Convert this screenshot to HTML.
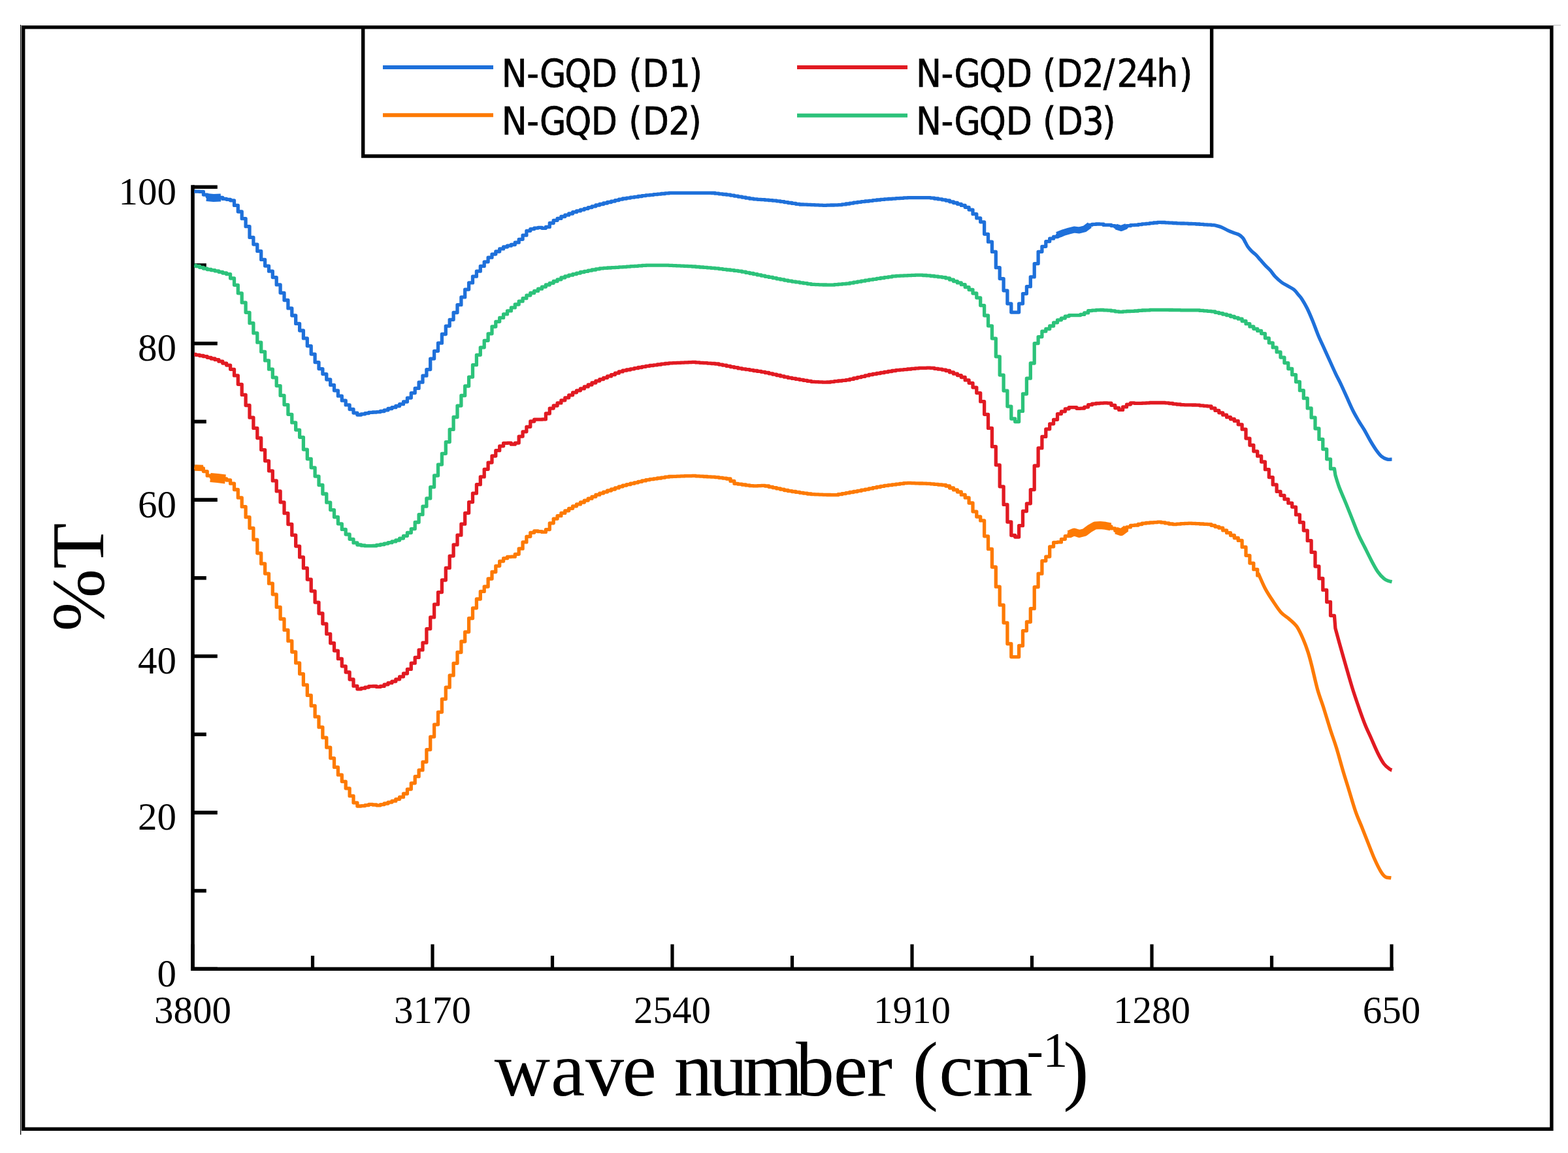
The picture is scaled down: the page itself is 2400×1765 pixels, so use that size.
<!DOCTYPE html><html><head><meta charset="utf-8"><title>FTIR spectra of N-GQD samples</title><style>html,body{margin:0;padding:0;background:#fff;overflow:hidden;}svg{display:block;}.tl{font-family:"Liberation Serif","Times New Roman",serif;fill:#000;}.lg{font-family:"DejaVu Sans Condensed","DejaVu Sans","Liberation Sans",sans-serif;font-stretch:condensed;fill:#000;stroke:#000;stroke-width:0.7px;}</style></head><body>
<svg xmlns="http://www.w3.org/2000/svg" width="2400" height="1765" viewBox="0 0 2400 1765">
<rect x="0" y="0" width="2400" height="1765" fill="#fff"/>
<line x1="31.6" y1="38" x2="31.6" y2="1737" stroke="#000" stroke-width="1.3"/>
<line x1="2377" y1="38.6" x2="2389" y2="38.6" stroke="#bbb" stroke-width="1"/>
<rect x="35.7" y="41.7" width="2339.2" height="1686.6" fill="none" stroke="#000" stroke-width="5.4"/>
<path d="M555.7 41.7 V239 H1854.6 V41.7" fill="none" stroke="#000" stroke-width="5.4"/>
<line x1="586" y1="103" x2="755" y2="103" stroke="#1E70DA" stroke-width="6"/>
<line x1="586" y1="176.3" x2="755" y2="176.3" stroke="#FD7A04" stroke-width="6"/>
<line x1="1220" y1="103" x2="1389" y2="103" stroke="#E11A22" stroke-width="6"/>
<line x1="1220" y1="176.8" x2="1389" y2="176.8" stroke="#2CC27A" stroke-width="6"/>
<text class="lg" x="767.8 806.3 826.1 864.3 904.7 944.9 962.6 983.3 1023.8 1054.7" y="132.9" font-size="58">N-GQD (D1)</text>
<text class="lg" x="767.8 806.3 826.1 864.3 904.7 944.9 962.2 983.8 1023.3 1053.6" y="206.4" font-size="58">N-GQD (D2)</text>
<text class="lg" x="1402.0 1440.5 1460.6 1498.8 1539.7 1579.9 1596.1 1617.0 1656.5 1688.7 1709.4 1739.1 1770.2 1804.9" y="132.9" font-size="58">N-GQD (D2/24h)</text>
<text class="lg" x="1402.0 1440.5 1460.6 1498.8 1539.7 1579.9 1595.9 1617.6 1656.6 1687.3" y="206.4" font-size="58">N-GQD (D3)</text>
<line x1="295.0" y1="283.3" x2="295.0" y2="1486.1" stroke="#000" stroke-width="5.6"/>
<line x1="292.2" y1="1483.3" x2="2133.0" y2="1483.3" stroke="#000" stroke-width="5.6"/>
<line x1="295.0" y1="1483.3" x2="295.0" y2="1445.5" stroke="#000" stroke-width="5.2"/>
<line x1="478.5" y1="1483.3" x2="478.5" y2="1463.0" stroke="#000" stroke-width="5.2"/>
<line x1="662.0" y1="1483.3" x2="662.0" y2="1445.5" stroke="#000" stroke-width="5.2"/>
<line x1="845.5" y1="1483.3" x2="845.5" y2="1463.0" stroke="#000" stroke-width="5.2"/>
<line x1="1029.0" y1="1483.3" x2="1029.0" y2="1445.5" stroke="#000" stroke-width="5.2"/>
<line x1="1212.5" y1="1483.3" x2="1212.5" y2="1463.0" stroke="#000" stroke-width="5.2"/>
<line x1="1396.0" y1="1483.3" x2="1396.0" y2="1445.5" stroke="#000" stroke-width="5.2"/>
<line x1="1579.5" y1="1483.3" x2="1579.5" y2="1463.0" stroke="#000" stroke-width="5.2"/>
<line x1="1763.0" y1="1483.3" x2="1763.0" y2="1445.5" stroke="#000" stroke-width="5.2"/>
<line x1="1946.5" y1="1483.3" x2="1946.5" y2="1463.0" stroke="#000" stroke-width="5.2"/>
<line x1="2130.0" y1="1483.3" x2="2130.0" y2="1445.5" stroke="#000" stroke-width="5.2"/>
<line x1="295.0" y1="1483.3" x2="332.8" y2="1483.3" stroke="#000" stroke-width="5.6"/>
<line x1="295.0" y1="1363.6" x2="315.8" y2="1363.6" stroke="#000" stroke-width="5.6"/>
<line x1="295.0" y1="1243.9" x2="332.8" y2="1243.9" stroke="#000" stroke-width="5.6"/>
<line x1="295.0" y1="1124.2" x2="315.8" y2="1124.2" stroke="#000" stroke-width="5.6"/>
<line x1="295.0" y1="1004.5" x2="332.8" y2="1004.5" stroke="#000" stroke-width="5.6"/>
<line x1="295.0" y1="884.8" x2="315.8" y2="884.8" stroke="#000" stroke-width="5.6"/>
<line x1="295.0" y1="765.1" x2="332.8" y2="765.1" stroke="#000" stroke-width="5.6"/>
<line x1="295.0" y1="645.4" x2="315.8" y2="645.4" stroke="#000" stroke-width="5.6"/>
<line x1="295.0" y1="525.7" x2="332.8" y2="525.7" stroke="#000" stroke-width="5.6"/>
<line x1="295.0" y1="406.0" x2="315.8" y2="406.0" stroke="#000" stroke-width="5.6"/>
<line x1="295.0" y1="286.3" x2="332.8" y2="286.3" stroke="#000" stroke-width="5.6"/>
<text class="tl" x="295.0" y="1566" font-size="59" text-anchor="middle">3800</text>
<text class="tl" x="662.0" y="1566" font-size="59" text-anchor="middle">3170</text>
<text class="tl" x="1029.0" y="1566" font-size="59" text-anchor="middle">2540</text>
<text class="tl" x="1396.0" y="1566" font-size="59" text-anchor="middle">1910</text>
<text class="tl" x="1763.0" y="1566" font-size="59" text-anchor="middle">1280</text>
<text class="tl" x="2130.0" y="1566" font-size="59" text-anchor="middle">650</text>
<text class="tl" x="270" y="1509.8" font-size="59" text-anchor="end">0</text>
<text class="tl" x="270" y="1270.4" font-size="59" text-anchor="end">20</text>
<text class="tl" x="270" y="1031.0" font-size="59" text-anchor="end">40</text>
<text class="tl" x="270" y="791.6" font-size="59" text-anchor="end">60</text>
<text class="tl" x="270" y="552.2" font-size="59" text-anchor="end">80</text>
<text class="tl" x="270" y="312.8" font-size="59" text-anchor="end">100</text>
<text class="tl" y="1676.5" font-size="118"><tspan x="756.7 842.9 896.0 952.4 1004.8 1031.7 1085.3 1136.9 1217.9 1275.7 1326.8 1366.1 1396.8 1437.2 1489.0">wave number (cm</tspan><tspan x="1571.5 1596.3" y="1632.6" font-size="76">-1</tspan><tspan x="1627.2" y="1676.5">)</tspan></text>
<text class="tl" font-size="115" text-anchor="middle" transform="translate(158,883.5) rotate(-90)">%T</text>
<path d="M297.5 293.0H299.6V293.2H305.5V293.4H311.4V298.1H317.2V300.9H323.1V301.4H329.0V302.0H334.9V302.5H340.8V304.4H346.7V305.3H352.6V306.8H358.5V314.4H364.3V324.0H370.2V334.7H376.1V346.7H382.0V363.4H387.9V374.1H393.8V384.4H399.7V397.4H405.6V407.1H411.5V415.2H417.3V424.6H423.2V435.9H429.1V448.3H435.0V459.5H440.9V471.9H446.8V483.0H452.7V495.4H458.6V506.0H464.4V517.9H470.3V529.6H476.2V542.1H482.1V554.6H488.0V564.6H493.9V572.6H499.8V581.0H505.7V589.4H511.5V597.8H517.4V606.2H523.3V613.2H529.2V619.9H535.1V626.5H541.0V632.1H546.9V635.0H552.8V633.8H558.7V632.6H564.5V631.4H570.4V631.0H576.3V630.6H582.2V629.5H588.1V627.8H594.0V625.5H599.9V623.7H605.8V621.5H611.6V618.7H617.5V615.0H623.4V609.1H629.3V601.6H635.2V594.4H641.1V585.2H647.0V575.2H652.9V565.6H658.7V549.1H664.6V537.3H670.5V525.2H676.4V511.5H682.3V499.1H688.2V489.3H694.1V478.5H700.0V466.7H705.9V454.9H711.7V443.1H717.6V432.9H723.5V423.2H729.4V415.2H735.3V407.4H741.2V400.8H747.1V394.2H753.0V389.1H758.8V385.0H764.7V380.9H770.6V378.0H776.5V376.2H782.4V374.5H788.3V371.2H794.2V366.3H800.1V360.2H805.9V353.3H811.8V350.6H817.7V349.1H823.6V348.4H829.5V349.3H835.4V347.4H841.3V341.5H847.2V337.3H853.1V334.4H858.9V331.5H864.8V329.2H870.7V327.0H876.6V324.7H882.5V322.9H888.4V321.1H894.3V319.3H900.2V317.6H906.0V315.8H911.9V314.0H917.8V312.5H923.7V311.0H929.6V309.5H935.5V308.1H941.4V306.6H947.3V305.1H953.1V304.0H959.0V303.1H964.9V302.2H970.8V301.4H976.7V300.5H982.6V299.6H988.5V298.9H994.4V298.3H1000.3V297.7H1006.1V297.1H1012.0V296.5H1017.9V295.9H1023.8V295.4H1029.7V295.4H1035.6V295.4H1041.5V295.4H1047.4V295.4H1053.2V295.4H1059.1V295.4H1065.0V295.4H1070.9V295.4H1076.8V295.4H1082.7V295.4H1088.6V295.5H1094.5V296.2H1100.3V296.8H1106.2V297.5H1112.1V298.2H1118.0V299.1H1123.9V300.1H1129.8V301.1H1135.7V302.1H1141.6V303.2H1147.5V304.2H1153.3V304.8H1159.2V305.3H1165.1V305.7H1171.0V306.2H1176.9V306.7H1182.8V307.2H1188.7V307.8H1194.6V308.7H1200.4V309.6H1206.3V310.5H1212.2V311.4H1218.1V312.3H1224.0V313.0H1229.9V313.2H1235.8V313.4H1241.7V313.7H1247.5V313.9H1253.4V314.1H1259.3V314.3H1265.2V314.1H1271.1V314.0H1277.0V313.8H1282.9V313.6H1288.8V312.9H1294.7V312.0H1300.5V311.1H1306.4V310.2H1312.3V309.3H1318.2V308.6H1324.1V308.0H1330.0V307.3H1335.9V306.7H1341.8V306.0H1347.6V305.4H1353.5V304.9H1359.4V304.5H1365.3V304.1H1371.2V303.7H1377.1V303.3H1383.0V302.9H1388.9V302.7H1394.7V302.7H1400.6V302.7H1406.5V302.7H1412.4V302.7H1418.3V302.7H1424.2V303.1H1430.1V304.0H1436.0V304.9H1441.9V305.8H1447.7V307.0H1453.6V308.8H1459.5V310.5H1465.4V312.3H1471.3V314.4H1477.2V317.3H1483.1V321.1H1489.0V327.7H1494.8V333.9H1500.7V339.8H1506.6V358.3H1512.5V370.2H1518.4V385.4H1524.3V409.7H1530.2V426.6H1536.1V444.8H1541.9V464.8H1547.8V478.1H1553.7V478.1H1559.6V464.8H1565.5V449.6H1571.4V438.7H1577.3V423.9H1583.2V403.6H1589.1V385.3H1594.9V377.3H1600.8V369.6H1606.7V365.2H1612.6V362.5H1618.5V359.9H1624.4V357.3H1630.3V354.8H1636.2V352.8H1642.0V351.7H1647.9V352.3H1653.8V351.2H1659.7V348.4H1665.6V344.3H1671.5V343.4H1677.4V343.0H1683.3V343.2H1689.1V344.4H1695.0V344.4H1700.9V345.6H1706.8V347.3H1712.7V349.1H1718.6V347.3H1724.5V345.7H1730.4V344.7H1736.3V344.4H1742.1V343.6H1748.0V342.9H1753.9V342.3H1759.8V341.6H1765.7V341.0H1771.6V340.3H1777.5V340.5H1783.4V340.8H1789.2V341.2H1795.1V341.5H1801.0V341.8H1806.9V342.0H1812.8V342.2H1818.7V342.5H1824.6V342.7H1830.5V343.0H1836.3V343.4H1842.2V343.8H1848.1V344.2H1854.0V344.6H1858.0L1859.5 344.8C1861.2 345.3 1866.1 346.4 1869.4 347.7C1872.7 349.0 1875.9 351.1 1879.1 352.6C1882.3 354.1 1885.8 355.4 1888.7 356.5C1891.6 357.6 1894.2 358.1 1896.5 359.4C1898.8 360.7 1900.7 362.3 1902.3 364.2C1903.9 366.1 1904.9 368.7 1906.2 371.0C1907.5 373.3 1908.4 375.5 1910.0 377.8C1911.6 380.1 1913.8 382.5 1915.9 384.6C1918.0 386.7 1920.3 388.1 1922.6 390.4C1924.8 392.6 1927.0 395.4 1929.4 398.1C1931.8 400.8 1934.6 404.1 1937.2 406.8C1939.8 409.6 1942.5 411.9 1944.9 414.6C1947.3 417.4 1949.0 420.4 1951.7 423.3C1954.5 426.2 1958.2 429.6 1961.4 432.0C1964.6 434.4 1967.9 435.9 1971.1 437.8C1974.3 439.7 1978.0 441.3 1980.7 443.6C1983.4 445.9 1985.5 449.0 1987.5 451.4C1989.5 453.8 1990.4 454.3 1992.6 457.7C1994.8 461.1 1997.7 465.9 2000.5 471.5C2003.3 477.1 2006.4 484.4 2009.3 491.5C2012.2 498.6 2015.2 507.3 2018.1 514.3C2021.0 521.3 2024.0 527.1 2026.9 533.6C2029.8 540.1 2032.8 546.5 2035.7 553.0C2038.6 559.5 2041.6 566.2 2044.5 572.3C2047.4 578.4 2050.3 583.6 2053.2 589.8C2056.1 595.9 2059.1 602.8 2062.0 609.2C2064.9 615.7 2067.9 622.6 2070.8 628.5C2073.7 634.4 2076.7 639.3 2079.6 644.3C2082.5 649.3 2085.5 653.4 2088.4 658.4C2091.3 663.4 2094.2 669.2 2097.1 674.2C2100.0 679.2 2103.0 684.1 2105.9 688.2C2108.8 692.3 2111.8 696.3 2114.7 698.8C2117.6 701.3 2120.9 702.4 2123.5 703.1C2126.1 703.8 2129.3 703.1 2130.5 703.1" fill="none" stroke="#1E70DA" stroke-width="5.3" stroke-linejoin="round" stroke-linecap="butt"/>
<polyline points="316,302 327,303 338,302.5" fill="none" stroke="#1E70DA" stroke-width="12" stroke-linejoin="round" stroke-linecap="butt"/>
<polyline points="1618,360 1628,356 1636,353.6 1644,351.6 1652,352.4 1660,350.4 1668,344.4" fill="none" stroke="#1E70DA" stroke-width="10" stroke-linejoin="round" stroke-linecap="butt"/>
<polyline points="1708,347 1716,349.5 1724,346.4" fill="none" stroke="#1E70DA" stroke-width="9" stroke-linejoin="round" stroke-linecap="butt"/>
<path d="M297.5 406.2H299.6V407.5H305.5V409.3H311.4V411.1H317.2V412.5H323.1V413.6H329.0V414.8H334.9V416.3H340.8V418.0H346.7V419.7H352.6V426.0H358.5V436.3H364.3V448.8H370.2V463.2H376.1V478.3H382.0V494.7H387.9V509.9H393.8V524.2H399.7V538.4H405.6V551.9H411.5V565.2H417.3V577.8H423.2V590.6H429.1V605.4H435.0V619.6H440.9V634.3H446.8V646.9H452.7V658.1H458.6V669.3H464.4V688.1H470.3V702.5H476.2V715.8H482.1V729.1H488.0V742.5H493.9V756.0H499.8V769.2H505.7V780.6H511.5V791.5H517.4V801.8H523.3V810.4H529.2V818.0H535.1V825.3H541.0V830.9H546.9V834.0H552.8V835.0H558.7V835.7H564.5V835.7H570.4V835.5H576.3V834.5H582.2V833.5H588.1V832.1H594.0V830.7H599.9V828.9H605.8V827.0H611.6V824.1H617.5V820.3H623.4V815.5H629.3V809.6H635.2V799.5H641.1V787.7H647.0V775.2H652.9V762.9H658.7V745.6H664.6V728.0H670.5V711.1H676.4V694.3H682.3V676.6H688.2V657.4H694.1V638.5H700.0V621.1H705.9V605.5H711.7V591.0H717.6V577.1H723.5V558.7H729.4V543.3H735.3V531.8H741.2V521.3H747.1V510.8H753.0V500.0H758.8V492.3H764.7V486.4H770.6V480.9H776.5V475.9H782.4V470.9H788.3V466.0H794.2V461.2H800.1V456.7H805.9V452.1H811.8V448.5H817.7V445.4H823.6V442.2H829.5V439.1H835.4V436.0H841.3V433.3H847.2V430.5H853.1V427.8H858.9V425.0H864.8V422.8H870.7V421.2H876.6V419.6H882.5V418.1H888.4V416.5H894.3V415.3H900.2V414.1H906.0V413.0H911.9V411.8H917.8V410.8H923.7V410.4H929.6V410.0H935.5V409.7H941.4V409.3H947.3V408.9H953.1V408.6H959.0V408.1H964.9V407.7H970.8V407.3H976.7V406.9H982.6V406.4H988.5V406.2H994.4V406.2H1000.3V406.2H1006.1V406.2H1012.0V406.2H1017.9V406.2H1023.8V406.3H1029.7V406.6H1035.6V406.9H1041.5V407.1H1047.4V407.4H1053.2V407.7H1059.1V408.0H1065.0V408.5H1070.9V409.0H1076.8V409.4H1082.7V409.9H1088.6V410.4H1094.5V410.9H1100.3V411.6H1106.2V412.3H1112.1V413.0H1118.0V413.7H1123.9V414.4H1129.8V415.1H1135.7V416.2H1141.6V417.4H1147.5V418.5H1153.3V419.7H1159.2V420.9H1165.1V422.1H1171.0V423.3H1176.9V424.4H1182.8V425.6H1188.7V426.8H1194.6V427.9H1200.4V429.1H1206.3V430.2H1212.2V431.1H1218.1V431.9H1224.0V432.8H1229.9V433.7H1235.8V434.6H1241.7V435.4H1247.5V435.6H1253.4V435.8H1259.3V436.0H1265.2V436.2H1271.1V436.2H1277.0V435.7H1282.9V435.2H1288.8V434.7H1294.7V434.2H1300.5V433.2H1306.4V432.2H1312.3V431.2H1318.2V430.2H1324.1V429.2H1330.0V428.2H1335.9V427.3H1341.8V426.4H1347.6V425.5H1353.5V424.7H1359.4V423.8H1365.3V422.9H1371.2V422.4H1377.1V422.2H1383.0V421.9H1388.9V421.7H1394.7V421.4H1400.6V421.1H1406.5V421.2H1412.4V421.5H1418.3V421.9H1424.2V422.5H1430.1V423.2H1436.0V423.9H1441.9V424.6H1447.7V425.9H1453.6V428.2H1459.5V430.6H1465.4V432.9H1471.3V435.7H1477.2V439.6H1483.1V443.5H1489.0V449.0H1494.8V455.8H1500.7V467.6H1506.6V483.0H1512.5V498.8H1518.4V518.1H1524.3V545.8H1530.2V574.1H1536.1V598.1H1541.9V622.1H1547.8V641.0H1553.7V645.6H1559.6V629.4H1565.5V603.0H1571.4V579.2H1577.3V556.0H1583.2V525.6H1589.1V515.6H1594.9V507.2H1600.8V503.5H1606.7V499.0H1612.6V493.8H1618.5V489.8H1624.4V487.1H1630.3V484.1H1636.2V482.6H1642.0V482.6H1647.9V482.6H1653.8V481.4H1659.7V478.9H1665.6V475.6H1671.5V475.2H1677.4V474.7H1683.3V474.5H1689.1V474.8H1695.0V475.1H1700.9V475.9H1706.8V476.8H1712.7V477.4H1718.6V476.8H1724.5V476.5H1730.4V476.3H1736.3V476.0H1742.1V475.4H1748.0V475.0H1753.9V474.9H1759.8V474.3H1765.7V474.3H1771.6V474.3H1777.5V474.3H1783.4V474.3H1789.2V474.5H1795.1V474.6H1801.0V474.7H1806.9V474.8H1812.8V474.8H1818.7V474.8H1824.6V474.8H1830.5V474.9H1836.3V475.4H1842.2V475.8H1848.1V476.3H1854.0V476.8H1859.9V478.3H1865.8V479.7H1871.7V481.2H1877.6V482.7H1883.5V484.5H1889.3V486.3H1895.2V488.2H1901.1V491.5H1907.0V495.7H1912.9V499.9H1918.8V503.3H1924.7V506.4H1930.6V510.6H1936.4V517.6H1942.3V524.8H1948.2V531.9H1954.1V538.9H1960.0V547.1H1965.9V555.6H1971.8V564.5H1977.7V573.7H1983.5V584.5H1989.4V597.7H1995.3V609.7H2001.2V624.9H2007.1V639.2H2013.0V656.0H2018.9V672.4H2024.8V687.6H2030.7V702.8H2036.5V717.5H2042.4L2043.9 727.4C2044.8 730.3 2046.8 737.8 2049.5 745.0C2052.2 752.2 2056.8 762.5 2060.2 770.8C2063.6 779.1 2066.7 786.9 2069.9 795.0C2073.1 803.1 2076.4 812.0 2079.6 819.2C2082.8 826.5 2086.1 832.0 2089.3 838.5C2092.5 845.0 2095.8 851.8 2099.0 857.9C2102.2 864.0 2105.5 870.2 2108.7 874.9C2111.9 879.5 2115.6 883.4 2118.4 885.8C2121.2 888.2 2123.6 888.6 2125.6 889.4C2127.6 890.2 2129.7 890.4 2130.5 890.6" fill="none" stroke="#2CC27A" stroke-width="5.3" stroke-linejoin="round" stroke-linecap="butt"/>
<path d="M297.5 542.4H299.6V543.3H305.5V544.5H311.4V545.7H317.2V547.3H323.1V549.0H329.0V550.7H334.9V553.2H340.8V556.1H346.7V559.1H352.6V565.3H358.5V574.9H364.3V588.3H370.2V604.4H376.1V620.5H382.0V639.2H387.9V655.4H393.8V670.5H399.7V688.6H405.6V705.6H411.5V720.8H417.3V735.9H423.2V751.9H429.1V768.8H435.0V785.7H440.9V802.5H446.8V819.2H452.7V836.1H458.6V852.9H464.4V869.7H470.3V887.0H476.2V904.8H482.1V922.1H488.0V939.0H493.9V954.8H499.8V970.4H505.7V984.5H511.5V996.1H517.4V1008.4H523.3V1019.8H529.2V1029.0H535.1V1040.0H541.0V1050.2H546.9V1054.8H552.8V1053.7H558.7V1052.1H564.5V1050.7H570.4V1050.5H576.3V1051.4H582.2V1050.4H588.1V1047.8H594.0V1045.4H599.9V1043.1H605.8V1039.8H611.6V1035.8H617.5V1031.0H623.4V1024.4H629.3V1015.2H635.2V1006.4H641.1V994.9H647.0V983.9H652.9V962.6H658.7V944.9H664.6V925.2H670.5V906.6H676.4V888.0H682.3V869.4H688.2V851.1H694.1V833.9H700.0V819.2H705.9V802.2H711.7V785.3H717.6V768.6H723.5V755.2H729.4V741.7H735.3V729.9H741.2V718.3H747.1V708.1H753.0V698.0H758.8V689.7H764.7V682.8H770.6V678.4H776.5V678.2H782.4V680.2H788.3V678.1H794.2V668.1H800.1V660.8H805.9V653.3H811.8V645.0H817.7V642.1H823.6V642.2H829.5V641.8H835.4V633.0H841.3V625.1H847.2V621.0H853.1V616.9H858.9V612.8H864.8V608.8H870.7V604.8H876.6V600.8H882.5V597.8H888.4V594.9H894.3V591.9H900.2V589.0H906.0V586.0H911.9V583.1H917.8V580.6H923.7V578.3H929.6V575.9H935.5V573.6H941.4V571.2H947.3V568.9H953.1V567.2H959.0V566.0H964.9V564.8H970.8V563.7H976.7V562.5H982.6V561.3H988.5V560.3H994.4V559.5H1000.3V558.8H1006.1V558.0H1012.0V557.2H1017.9V556.5H1023.8V555.8H1029.7V555.6H1035.6V555.4H1041.5V555.1H1047.4V554.9H1053.2V554.6H1059.1V554.4H1065.0V554.9H1070.9V555.3H1076.8V555.7H1082.7V556.1H1088.6V556.5H1094.5V557.0H1100.3V558.1H1106.2V559.2H1112.1V560.4H1118.0V561.6H1123.9V562.7H1129.8V563.9H1135.7V564.9H1141.6V565.7H1147.5V566.6H1153.3V567.5H1159.2V568.4H1165.1V569.3H1171.0V570.5H1176.9V571.8H1182.8V573.2H1188.7V574.5H1194.6V575.9H1200.4V577.2H1206.3V578.4H1212.2V579.4H1218.1V580.4H1224.0V581.4H1229.9V582.4H1235.8V583.4H1241.7V584.3H1247.5V584.6H1253.4V584.9H1259.3V585.2H1265.2V585.0H1271.1V584.3H1277.0V583.7H1282.9V583.0H1288.8V582.4H1294.7V581.7H1300.5V580.4H1306.4V579.0H1312.3V577.6H1318.2V576.3H1324.1V574.9H1330.0V573.5H1335.9V572.5H1341.8V571.5H1347.6V570.5H1353.5V569.5H1359.4V568.5H1365.3V567.5H1371.2V566.7H1377.1V566.1H1383.0V565.6H1388.9V565.0H1394.7V564.4H1400.6V563.8H1406.5V563.4H1412.4V563.3H1418.3V563.1H1424.2V563.4H1430.1V564.3H1436.0V565.2H1441.9V566.1H1447.7V567.5H1453.6V569.9H1459.5V572.2H1465.4V574.6H1471.3V577.5H1477.2V581.9H1483.1V586.3H1489.0V593.1H1494.8V601.6H1500.7V614.7H1506.6V634.3H1512.5V655.4H1518.4V683.7H1524.3V711.8H1530.2V744.8H1536.1V772.4H1541.9V799.0H1547.8V819.5H1553.7V822.0H1559.6V804.7H1565.5V782.5H1571.4V770.8H1577.3V749.6H1583.2V713.0H1589.1V685.9H1594.9V668.4H1600.8V656.8H1606.7V648.8H1612.6V642.3H1618.5V633.6H1624.4V629.8H1630.3V625.8H1636.2V623.6H1642.0V623.7H1647.9V625.3H1653.8V625.1H1659.7V623.1H1665.6V619.7H1671.5V618.2H1677.4V617.5H1683.3V617.1H1689.1V616.8H1695.0V617.1H1700.9V620.3H1706.8V624.5H1712.7V627.4H1718.6V622.9H1724.5V619.1H1730.4V616.9H1736.3V617.3H1742.1V617.4H1748.0V617.2H1753.9V616.8H1759.8V616.5H1765.7V616.5H1771.6V616.5H1777.5V616.5H1783.4V616.8H1789.2V617.5H1795.1V618.3H1801.0V619.0H1806.9V619.6H1812.8V619.8H1818.7V619.9H1824.6V620.0H1830.5V620.2H1836.3V620.8H1842.2V621.3H1848.1V621.9H1854.0V624.9H1859.9V628.4H1865.8V631.8H1871.7V635.2H1877.6V638.7H1883.5V641.5H1889.3V644.4H1895.2V649.8H1901.1V657.2H1907.0V671.1H1912.9V681.5H1918.8V690.8H1924.7V698.2H1930.6V707.0H1936.4V718.7H1942.3V730.6H1948.2V741.9H1954.1V752.4H1960.0V758.3H1965.9V764.2H1971.8V770.2H1977.7V776.1H1983.5V787.9H1989.4V799.7H1995.3V812.1H2001.2V827.7H2007.1V845.4H2013.0V867.0H2018.9V885.5H2024.8V903.2H2030.7V921.5H2036.5V942.3H2042.4L2043.9 961.8C2045.0 965.9 2047.9 976.5 2050.6 986.2C2053.3 995.9 2057.0 1008.8 2060.2 1020.0C2063.4 1031.2 2066.7 1042.9 2069.9 1053.3C2073.1 1063.7 2076.4 1073.0 2079.6 1082.3C2082.8 1091.6 2086.1 1100.9 2089.3 1109.0C2092.5 1117.1 2095.8 1123.5 2099.0 1130.8C2102.2 1138.0 2105.5 1146.0 2108.7 1152.5C2111.9 1159.0 2115.2 1165.2 2118.4 1169.5C2121.6 1173.8 2126.0 1176.5 2128.0 1178.0C2130.0 1179.5 2130.1 1178.4 2130.5 1178.5" fill="none" stroke="#E11A22" stroke-width="5.3" stroke-linejoin="round" stroke-linecap="butt"/>
<path d="M297.5 716.0H299.6V716.3H305.5V716.8H311.4V721.6H317.2V728.2H323.1V730.5H329.0V731.2H334.9V732.0H340.8V732.8H346.7V735.0H352.6V740.2H358.5V749.5H364.3V761.9H370.2V775.7H376.1V791.7H382.0V808.4H387.9V826.1H393.8V846.8H399.7V862.9H405.6V878.1H411.5V893.2H417.3V909.8H423.2V929.4H429.1V947.5H435.0V964.4H440.9V981.2H446.8V998.0H452.7V1014.9H458.6V1031.6H464.4V1048.4H470.3V1064.4H476.2V1080.4H482.1V1097.2H488.0V1113.2H493.9V1129.2H499.8V1144.2H505.7V1160.6H511.5V1174.4H517.4V1186.2H523.3V1196.3H529.2V1206.8H535.1V1218.4H541.0V1228.8H546.9V1234.0H552.8V1233.6H558.7V1232.6H564.5V1231.4H570.4V1232.0H576.3V1232.8H582.2V1231.6H588.1V1230.0H594.0V1228.1H599.9V1226.2H605.8V1223.3H611.6V1220.2H617.5V1215.0H623.4V1208.1H629.3V1198.8H635.2V1188.7H641.1V1178.9H647.0V1166.3H652.9V1147.6H658.7V1127.8H664.6V1109.1H670.5V1090.1H676.4V1070.1H682.3V1052.2H688.2V1033.9H694.1V1015.4H700.0V998.5H705.9V982.0H711.7V967.3H717.6V946.5H723.5V930.8H729.4V917.0H735.3V905.4H741.2V898.0H747.1V886.0H753.0V875.5H758.8V866.3H764.7V859.1H770.6V854.7H776.5V852.3H782.4V852.2H788.3V848.3H794.2V839.9H800.1V829.9H805.9V821.3H811.8V815.3H817.7V813.0H823.6V813.7H829.5V814.4H835.4V810.6H841.3V800.8H847.2V794.1H853.1V789.7H858.9V785.4H864.8V781.8H870.7V778.3H876.6V774.8H882.5V771.9H888.4V769.0H894.3V766.1H900.2V763.2H906.0V760.3H911.9V757.4H917.8V755.1H923.7V753.1H929.6V751.0H935.5V749.0H941.4V746.9H947.3V744.8H953.1V743.1H959.0V741.7H964.9V740.2H970.8V738.8H976.7V737.3H982.6V735.9H988.5V734.6H994.4V733.7H1000.3V732.8H1006.1V732.0H1012.0V731.1H1017.9V730.2H1023.8V729.5H1029.7V729.3H1035.6V729.1H1041.5V728.9H1047.4V728.7H1053.2V728.6H1059.1V728.4H1065.0V728.8H1070.9V729.1H1076.8V729.5H1082.7V729.9H1088.6V730.2H1094.5V730.6H1100.3V731.3H1106.2V732.1H1112.1V733.0H1118.0V736.4H1123.9V740.3H1129.8V741.2H1135.7V742.0H1141.6V742.9H1147.5V743.7H1153.3V743.9H1159.2V743.6H1165.1V743.4H1171.0V744.0H1176.9V745.3H1182.8V746.6H1188.7V747.9H1194.6V749.2H1200.4V750.5H1206.3V751.7H1212.2V752.5H1218.1V753.4H1224.0V754.3H1229.9V755.2H1235.8V756.0H1241.7V756.7H1247.5V756.9H1253.4V757.1H1259.3V757.3H1265.2V757.5H1271.1V757.6H1277.0V757.7H1282.9V756.7H1288.8V755.6H1294.7V754.6H1300.5V753.5H1306.4V752.5H1312.3V751.4H1318.2V750.2H1324.1V749.1H1330.0V747.9H1335.9V746.7H1341.8V745.5H1347.6V744.3H1353.5V743.4H1359.4V742.7H1365.3V741.9H1371.2V741.2H1377.1V740.4H1383.0V739.6H1388.9V739.4H1394.7V739.6H1400.6V739.8H1406.5V740.0H1412.4V740.2H1418.3V740.4H1424.2V740.8H1430.1V741.4H1436.0V742.0H1441.9V742.5H1447.7V744.0H1453.6V747.0H1459.5V749.9H1465.4V753.0H1471.3V757.4H1477.2V761.9H1483.1V770.0H1489.0V783.1H1494.8V791.0H1500.7V796.9H1506.6V820.8H1512.5V840.4H1518.4V868.0H1524.3V898.2H1530.2V926.2H1536.1V953.3H1541.9V985.5H1547.8V1005.6H1553.7V1005.6H1559.6V988.5H1565.5V965.6H1571.4V952.0H1577.3V931.7H1583.2V898.6H1589.1V878.2H1594.9V858.6H1600.8V852.1H1606.7V836.8H1612.6V830.3H1618.5V829.9H1624.4V825.3H1630.3V820.7H1636.2V816.9H1642.0V814.7H1647.9V816.6H1653.8V815.8H1659.7V813.0H1665.6V808.7H1671.5V805.5H1677.4V804.3H1683.3V804.2H1689.1V804.8H1695.0V806.0H1700.9V808.9H1706.8V812.3H1712.7V814.7H1718.6V810.7H1724.5V806.9H1730.4V804.3H1736.3V804.0H1742.1V802.5H1748.0V801.2H1753.9V800.5H1759.8V800.0H1765.7V799.6H1771.6V799.1H1777.5V799.9H1783.4V800.9H1789.2V802.0H1795.1V802.6H1801.0V802.2H1806.9V801.7H1812.8V801.3H1818.7V801.1H1824.6V801.4H1830.5V801.7H1836.3V802.0H1842.2V802.3H1848.1V802.6H1854.0V804.3H1859.9V806.3H1865.8V808.2H1871.7V811.9H1877.6V815.7H1883.5V819.5H1889.3V823.5H1895.2V827.4H1901.1V837.4H1907.0V850.3H1912.9V862.1H1918.8V871.7H1924.7V880.9H1924.7L1926.2 878.4C1928.0 882.2 1933.0 894.4 1936.8 901.5C1940.6 908.6 1944.9 914.9 1948.9 920.9C1952.9 926.9 1957.0 933.4 1961.0 937.8C1965.0 942.2 1969.1 943.9 1973.1 947.5C1977.1 951.1 1981.6 954.4 1985.2 959.6C1988.8 964.9 1992.1 972.5 1994.9 979.0C1997.7 985.5 1999.9 991.6 2002.1 998.4C2004.3 1005.2 2005.6 1010.5 2008.0 1020.0C2010.4 1029.5 2013.7 1044.9 2016.7 1055.7C2019.8 1066.5 2023.1 1074.6 2026.3 1084.7C2029.5 1094.8 2032.8 1106.1 2036.0 1116.2C2039.2 1126.3 2042.5 1134.8 2045.7 1145.3C2048.9 1155.8 2052.2 1168.3 2055.4 1179.2C2058.6 1190.1 2061.9 1200.2 2065.1 1210.7C2068.3 1221.2 2071.6 1232.8 2074.8 1242.1C2078.0 1251.4 2081.3 1258.2 2084.5 1266.3C2087.7 1274.4 2090.9 1282.5 2094.1 1290.6C2097.3 1298.7 2100.6 1307.5 2103.8 1314.8C2107.0 1322.0 2110.7 1329.5 2113.5 1334.1C2116.3 1338.7 2118.2 1341.0 2120.8 1342.6C2123.4 1344.2 2127.9 1343.6 2129.3 1343.8" fill="none" stroke="#FD7A04" stroke-width="5.3" stroke-linejoin="round" stroke-linecap="butt"/>
<polyline points="298,716 311,716.5" fill="none" stroke="#FD7A04" stroke-width="9.5" stroke-linejoin="round" stroke-linecap="butt"/>
<polyline points="322,731 333,732 345,733.5" fill="none" stroke="#FD7A04" stroke-width="14" stroke-linejoin="round" stroke-linecap="butt"/>
<polyline points="1636,818 1644,814.4 1652,817 1660,815 1668,809 1676,804.6 1684,804 1692,804.8 1700,806.4" fill="none" stroke="#FD7A04" stroke-width="12" stroke-linejoin="round" stroke-linecap="butt"/>
<polyline points="1708,812 1716,814.8 1724,808.8" fill="none" stroke="#FD7A04" stroke-width="11" stroke-linejoin="round" stroke-linecap="butt"/>
</svg></body></html>
